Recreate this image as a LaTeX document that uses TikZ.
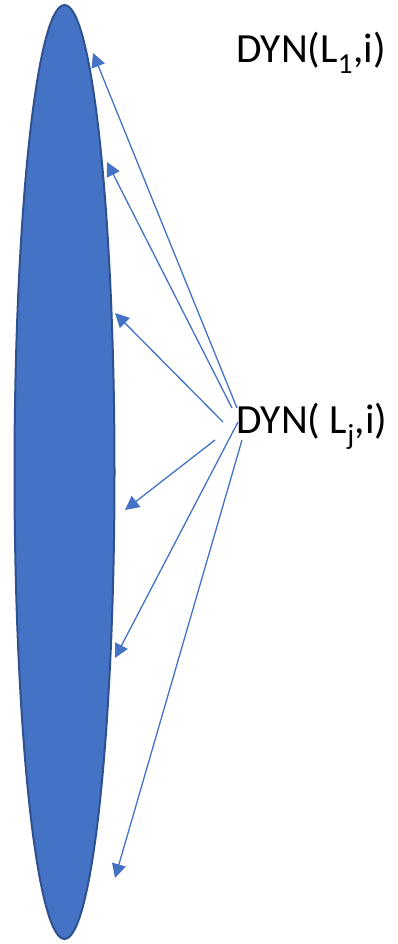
\documentclass[tikz,border=0pt]{standalone}
\usepackage{fontspec}
\setmainfont{Carlito}
\usetikzlibrary{arrows.meta}
\definecolor{lensblue}{HTML}{4472C4}
\definecolor{lensedge}{HTML}{2F528F}
\tikzset{x=1pt, y=-1pt, % one unit is one pixel of the sketch
ray/.style={draw=lensblue, line width=1.3pt, -{Triangle[length=14pt,width=14pt]}}, % the thin blue arrows
lbl/.style={anchor=base west, inner sep=0pt, font=\fontsize{41.5}{46}\selectfont}, % the DYN labels
}

\begin{document}
\begin{tikzpicture}
  \useasboundingbox (0,0) rectangle (397,944);
  \fill[lensblue, draw=lensedge, line width=2pt] (64.5,472) ellipse [x radius=50, y radius=467];

  \node[lbl] (dyn1) at (236,63) {DYN(L\textsubscript{1},i)};
  \node[lbl] (dynj) at (236,433) {DYN( L\textsubscript{j},i)};

  \coordinate (s1) at (237,408);
  \coordinate (s2) at (232,408);
  \coordinate (s3) at (223,422);
  \coordinate (s4) at (215,440);
  \coordinate (s5) at (238,422);
  \coordinate (s6) at (242,440);
  \coordinate (t1) at (93,53);
  \coordinate (t2) at (107,162);
  \coordinate (t3) at (115,313);
  \coordinate (t4) at (125,510);
  \coordinate (t5) at (115,658);
  \coordinate (t6) at (115,878);

  \foreach \i in {1,...,6}
    \draw[ray] (s\i) -- (t\i);

\end{tikzpicture}
\end{document}
